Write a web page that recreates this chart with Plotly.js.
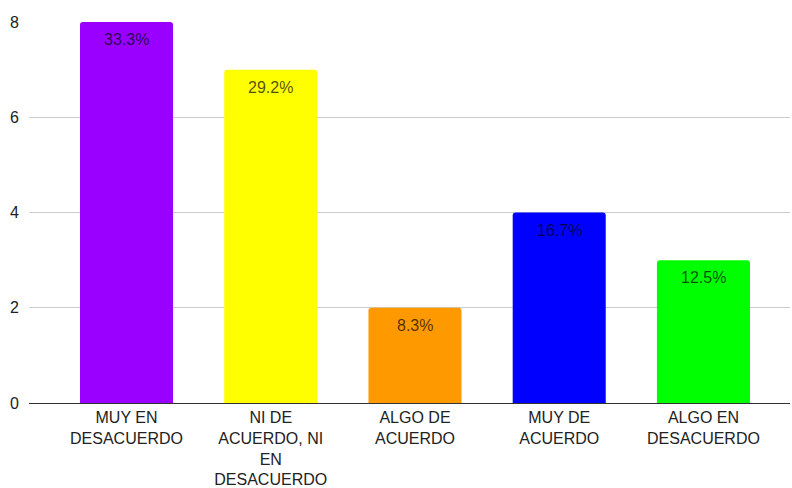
<!DOCTYPE html>
<html>
<head>
<meta charset="utf-8">
<script src="https://cdn.plot.ly/plotly-3.0.1.min.js"></script>
<style>html,body{margin:0;padding:0;background:#fff;}#chart{width:792px;height:488px;}</style>
</head>
<body>
<div id="chart"></div>
<script>
const categories = ["MUY EN<br>DESACUERDO", "NI DE<br>ACUERDO, NI<br>EN<br>DESACUERDO", "ALGO DE<br>ACUERDO", "MUY DE<br>ACUERDO", "ALGO EN<br>DESACUERDO"];
const counts = [8, 7, 2, 4, 3];
const percentLabels = ["33.3%", "29.2%", "8.3%", "16.7%", "12.5%"];
const barColors = ["#9900ff", "#ffff00", "#ff9900", "#0000ff", "#00ff00"];
const yTicks = [0, 2, 4, 6, 8];

const positions = categories.map((c, i) => i);

const trace = {
  type: "bar",
  x: positions,
  y: counts,
  width: 0.645,
  marker: { color: barColors, cornerradius: 3, line: { width: 0 } },
  hoverinfo: "skip"
};

const annotations = positions.map((p, i) => ({
  x: p,
  y: counts[i],
  xref: "x",
  yref: "y",
  text: percentLabels[i],
  showarrow: false,
  yanchor: "top",
  xanchor: "center",
  yshift: -7,
  font: { family: "Liberation Sans, Arial, sans-serif", size: 16, color: "rgba(0,0,0,0.7)" }
}));

const layout = {
  width: 792,
  height: 488,
  margin: { l: 29, r: 2, t: 22, b: 85 },
  paper_bgcolor: "#ffffff",
  plot_bgcolor: "#ffffff",
  showlegend: false,
  font: { family: "Liberation Sans, Arial, sans-serif", size: 16, color: "#222222" },
  annotations: annotations,
  xaxis: {
    range: [-0.676, 4.6],
    tickvals: positions,
    ticktext: categories,
    tickangle: 0,
    showgrid: false,
    zeroline: false,
    showline: false,
    ticks: "",
    ticklabelstandoff: 3,
    tickfont: { size: 16, color: "#222222" },
    fixedrange: true
  },
  yaxis: {
    range: [0, 8],
    tickvals: yTicks,
    showgrid: true,
    gridcolor: "#cccccc",
    gridwidth: 1,
    zeroline: true,
    zerolinecolor: "#333333",
    zerolinewidth: 1,
    showline: false,
    ticks: "",
    ticklabelstandoff: 9,
    tickfont: { size: 16, color: "#222222" },
    fixedrange: true
  }
};

Plotly.newPlot("chart", [trace], layout, { displayModeBar: false, staticPlot: true });
</script>
</body>
</html>
